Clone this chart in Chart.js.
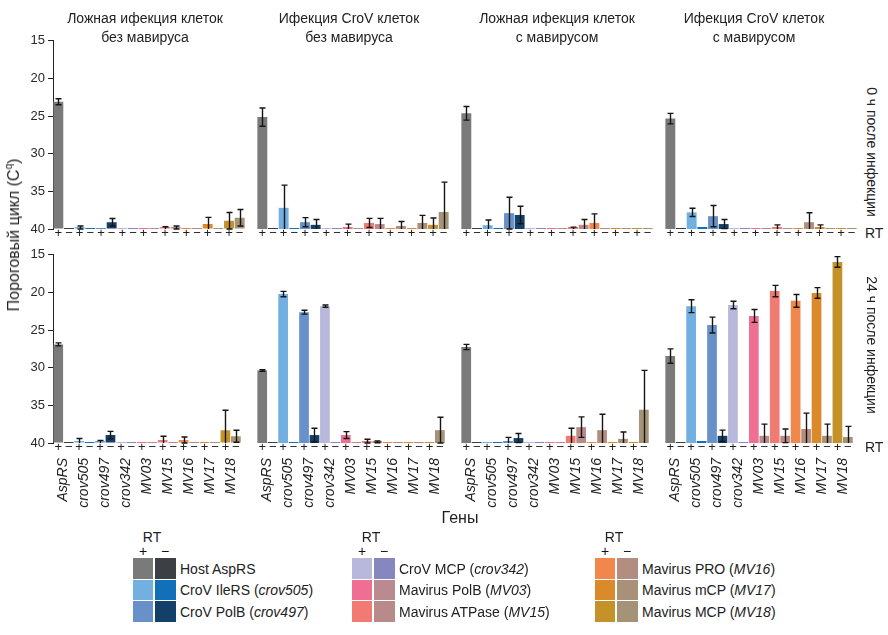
<!DOCTYPE html>
<html><head><meta charset="utf-8">
<script src="https://cdn.jsdelivr.net/npm/chart.js@4.4.1/dist/chart.umd.min.js"></script>
<style>
body{margin:0;background:#fff;width:888px;height:635px;position:relative;overflow:hidden;font-family:"Liberation Sans",Arial,sans-serif;color:#222}
canvas{position:absolute}
.t{position:absolute;white-space:nowrap;font-size:14px;line-height:1}
.title{position:absolute;white-space:nowrap;font-size:14px;line-height:19px;text-align:center;transform:translateX(-50%)}
.sw{position:absolute}
</style></head><body>
<script>
// ---------- data ----------
const genes = ['AspRS','crov505','crov497','crov342','MV03','MV15','MV16','MV17','MV18'];
const signs = ['+','\u2212'];
const colorsPlus  = ['#7a7a7b','#72b0e2','#6891c9','#b8b8dd','#ee6f91','#f17a72','#f1874a','#db8a2b','#c5922a'];
const colorsMinus = ['#3c3f43','#1270b8','#133f68','#8787c0','#b98a90','#b88a89','#b38e80','#a99079','#a59377'];
const legendNames = ['Host AspRS','CroV IleRS','CroV PolB','CroV MCP','Mavirus PolB','Mavirus ATPase','Mavirus PRO','Mavirus mCP','Mavirus MCP'];
const colTitles = [['Ложная ифекция клеток','без мавируса'],['Ифекция CroV клеток','без мавируса'],['Ложная ифекция клеток','с мавирусом'],['Ифекция CroV клеток','с мавирусом']];
const rowTitles = ['0 ч после инфекции','24 ч после инфекции'];
const yTicks = [15,20,25,30,35,40];

// 0 h
const mock0Plus      = [23.1,39.8,40,40,40,39.9,40,39.35,38.9];
const mock0PlusErr   = [0.4,0.2,0,0,0,0.2,0,0.9,1.1];
const mock0Minus     = [40,40,39.1,40,40,39.8,40,40,38.5];
const mock0MinusErr  = [0,0,0.5,0,0,0.2,0,0,1.1];

const crov0Plus      = [25.2,37.2,39.1,40,39.75,39.2,40,40,39.45];
const crov0PlusErr   = [1.2,3.0,0.6,0,0.4,0.6,0,0,0.9];
const crov0Minus     = [40,40,39.45,40,40,39.35,39.6,39.2,37.75];
const crov0MinusErr  = [0,0,0.7,0,0,0.75,0.6,1.0,3.95];

const mockMav0Plus     = [24.7,39.5,37.9,40,40,39.9,39.2,40,40];
const mockMav0PlusErr  = [0.9,0.7,2.1,0,0,0.15,1.2,0,0];
const mockMav0Minus    = [40,40,38.15,40,40,39.45,40,40,40];
const mockMav0MinusErr = [0,0,1.15,0,0,0.7,0,0,0];

const crovMav0Plus     = [25.4,37.8,38.3,40,40,39.75,40,39.75,40];
const crovMav0PlusErr  = [0.7,0.55,1.4,0,0,0.3,0,0.3,0];
const crovMav0Minus    = [40,39.8,39.35,40,40,40,39.1,40,40];
const crovMav0MinusErr = [0,0,0.6,0,0,0,1.25,0,0];

// 24 h
const mock24Plus      = [26.9,39.75,39.85,40,40,39.6,39.6,40,38.3];
const mock24PlusErr   = [0.2,0.35,0.2,0,0,0.5,0.4,0,2.65];
const mock24Minus     = [40,40,38.95,40,40,40,40,40,39.1];
const mock24MinusErr  = [0,0,0.5,0,0,0,0,0,0.8];

const crov24Plus      = [30.4,20.3,22.7,21.9,38.95,39.75,40,40,40];
const crov24PlusErr   = [0.1,0.35,0.25,0.15,0.45,0.25,0,0,0];
const crov24Minus     = [40,40,38.95,40,40,39.85,40,40,38.3];
const crov24MinusErr  = [0,0,0.9,0,0,0.12,0,0,1.7];

const mockMav24Plus     = [27.3,40,39.75,40,40,39.05,40,40,40];
const mockMav24PlusErr  = [0.35,0,0.5,0,0,1.0,0,0,0];
const mockMav24Minus    = [40,40,39.35,40,40,37.9,38.3,39.45,35.6];
const mockMav24MinusErr = [0,0,0.6,0,0,1.35,2.1,0.9,5.2];

const crovMav24Plus     = [28.5,21.9,24.4,21.75,23.2,19.9,21.2,20.15,16.05];
const crovMav24PlusErr  = [0.95,0.85,1.05,0.5,0.85,0.75,0.85,0.7,0.7];
const crovMav24Minus    = [40,39.85,39.05,40,39.05,39.05,38.15,39.05,39.2];
const crovMav24MinusErr = [0,0,0.75,0,1.55,0.9,2.1,1.55,1.4];

const panels = [
  [mock0Plus,mock0PlusErr,mock0Minus,mock0MinusErr],
  [crov0Plus,crov0PlusErr,crov0Minus,crov0MinusErr],
  [mockMav0Plus,mockMav0PlusErr,mockMav0Minus,mockMav0MinusErr],
  [crovMav0Plus,crovMav0PlusErr,crovMav0Minus,crovMav0MinusErr],
  [mock24Plus,mock24PlusErr,mock24Minus,mock24MinusErr],
  [crov24Plus,crov24PlusErr,crov24Minus,crov24MinusErr],
  [mockMav24Plus,mockMav24PlusErr,mockMav24Minus,mockMav24MinusErr],
  [crovMav24Plus,crovMav24PlusErr,crovMav24Minus,crovMav24MinusErr]
];

// ---------- layout ----------
const FONT = '"Liberation Sans", Arial, sans-serif';
Chart.defaults.font.family = FONT;
Chart.defaults.color = '#222';
const colLeft = [53,257,461,665];
const PW = 192, PH = 189;
const rowTop = [40,254];
const YAX = 40, PADT = 10, PADS = 6;

const errPlugin = {
  id:'errbars',
  afterDatasetsDraw(chart){
    const {ctx, chartArea, scales:{y}} = chart;
    ctx.save();
    ctx.strokeStyle = '#151515';
    ctx.lineWidth = 1.4;
    chart.data.datasets.forEach((ds,di)=>{
      const meta = chart.getDatasetMeta(di);
      meta.data.forEach((bar,i)=>{
        const e = ds.err[i];
        if(!e) return;
        const v = ds.data[i];
        const yT = y.getPixelForValue(v - e);
        let yB = y.getPixelForValue(v + e);
        const clipped = yB > chartArea.bottom;
        if (clipped) yB = chartArea.bottom;
        const x = Math.round(bar.x) + 0.5;
        ctx.beginPath();
        ctx.moveTo(x, yT); ctx.lineTo(x, yB);
        ctx.moveTo(x-3, yT); ctx.lineTo(x+3, yT);
        if (!clipped) { ctx.moveTo(x-3, yB); ctx.lineTo(x+3, yB); }
        ctx.stroke();
      });
    });
    ctx.restore();
  }
};

function addText(html, x, y, cls, style){
  const d = document.createElement('div');
  d.className = cls || 't';
  d.innerHTML = html;
  d.style.left = x + 'px'; d.style.top = y + 'px';
  if (style) Object.assign(d.style, style);
  document.body.appendChild(d);
  return d;
}

panels.forEach((p, idx) => {
  const row = idx < 4 ? 0 : 1, col = idx % 4;
  const hasY = col === 0;
  const pmH = row === 0 ? 16 : 12;
  const geneH = row === 0 ? 0 : 60;
  const cv = document.createElement('canvas');
  const left = hasY ? colLeft[col] - YAX : colLeft[col] - PADS;
  const w = (hasY ? YAX : PADS) + PW + PADS;
  const h = PADT + PH + pmH + geneH;
  cv.width = w; cv.height = h;
  cv.style.left = left + 'px';
  cv.style.top = (rowTop[row] - PADT) + 'px';
  document.body.appendChild(cv);
  new Chart(cv, {
    type:'bar',
    data:{
      labels: genes,
      datasets:[
        {label:'RT+', data:p[0], err:p[1], backgroundColor:colorsPlus, base:40},
        {label:'RT\u2212', data:p[2], err:p[3], backgroundColor:colorsMinus, base:40}
      ]
    },
    options:{
      responsive:false, animation:false, devicePixelRatio:1,
      events:[],
      layout:{padding:{top:PADT, left: hasY ? 0 : PADS, right:PADS, bottom:0}},
      datasets:{bar:{barPercentage:0.93, categoryPercentage:1, minBarLength:2, borderWidth:0}},
      plugins:{legend:{display:false}, tooltip:{enabled:false}},
      scales:{
        x:{
          type:'category', position:'bottom', weight:1, offset:true,
          display: row === 1,
          grid:{display:false, drawTicks:false}, border:{display:false},
          ticks:{autoSkip:false, minRotation:90, maxRotation:90, padding:3,
                 font:{size:14, style:'italic', family:FONT}, color:'#222'},
          afterFit(s){ s.height = geneH; }
        },
        xpm:{
          type:'category', position:'bottom', weight:0, offset:true,
          labels: genes.flatMap(() => signs),
          grid:{display:false, drawTicks:false}, border:{display:false},
          ticks:{autoSkip:false, maxRotation:0, minRotation:0, padding:-3,
                 font:{size:13, family:FONT}, color:'#1d1d1d'},
          afterFit(s){ s.height = pmH; }
        },
        y:{
          type:'linear', reverse:true, min:15, max:40,
          display: hasY,
          afterBuildTicks(s){ s.ticks = yTicks.map(v => ({value:v})); },
          grid:{drawOnChartArea:false, drawTicks:true, tickLength:5, color:'#222', lineWidth:1},
          border:{display:true, color:'#222', width:1},
          ticks:{padding:3, font:{size:13, family:FONT}, color:'#2a2a2a'},
          afterFit(s){ s.width = hasY ? YAX : 0; }
        }
      }
    },
    plugins:[errPlugin]
  });
});

// ---------- texts ----------
const titleCenters = [145, 349, 557, 754];
colTitles.forEach((t,i) => addText(t[0] + '<br>' + t[1], titleCenters[i], 9, 'title'));

addText('Пороговый цикл (C<sup style="font-size:10px;vertical-align:7px">q</sup>)', 13, 235, 't',
  {fontSize:'16px', transform:'translate(-50%,-50%) rotate(-90deg)'});
addText(rowTitles[0], 872, 152, 't', {transform:'translate(-50%,-50%) rotate(90deg)'});
addText(rowTitles[1], 872, 345, 't', {transform:'translate(-50%,-50%) rotate(90deg)'});
addText('RT', 865, 226, 't');
addText('RT', 865, 440, 't');
addText('Гены', 460, 518, 't', {fontSize:'16px', transform:'translate(-50%,-50%)'});

// ---------- legend ----------
const legX = [133, 352, 595];
const rowY = [558, 579.5, 601];
legX.forEach((gx, g) => {
  addText('RT', gx + 19, 537, 't', {transform:'translate(-50%,-50%)'});
  addText('+', gx + 10, 551, 't', {transform:'translate(-50%,-50%)', color:'#111'});
  addText('\u2212', gx + 32, 551, 't', {transform:'translate(-50%,-50%)', color:'#111'});
  for (let r = 0; r < 3; r++) {
    const k = g*3 + r;
    const s1 = document.createElement('div'); s1.className='sw';
    Object.assign(s1.style,{left:gx+'px', top:rowY[r]+'px', width:'20px', height:'20.5px', background:colorsPlus[k]});
    const s2 = document.createElement('div'); s2.className='sw';
    Object.assign(s2.style,{left:(gx+21.5)+'px', top:rowY[r]+'px', width:'21px', height:'20.5px', background:colorsMinus[k]});
    document.body.appendChild(s1); document.body.appendChild(s2);
    const label = k === 0 ? legendNames[k] : legendNames[k] + ' (<i>' + genes[k] + '</i>)';
    addText(label, gx + 47, rowY[r] + 10.5, 't', {transform:'translateY(-50%)'});
  }
});
</script>
</body></html>
